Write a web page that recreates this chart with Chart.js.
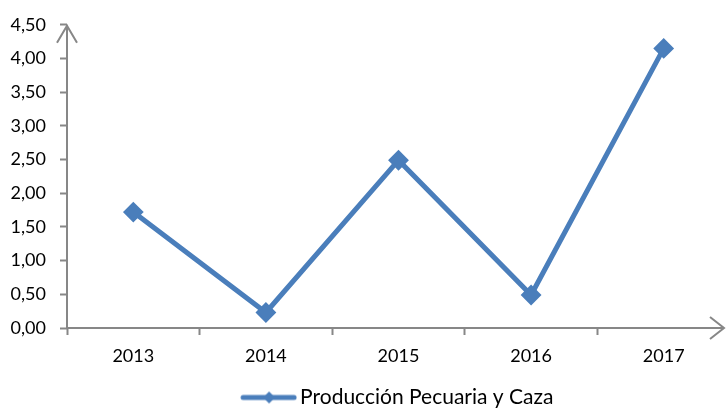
<!DOCTYPE html>
<html>
<head>
<meta charset="utf-8">
<script src="https://cdn.jsdelivr.net/npm/chart.js@4"></script>
<style>
  html, body { margin: 0; padding: 0; background: #fff; overflow: hidden; }
  /* plot area runs past the right edge of the window, as in the original */
  #wrap { width: 730px; height: 413px; }
</style>
</head>
<body>
<div id="wrap"><canvas id="chart"></canvas></div>
<script>
// Chart data
const years = ["2013", "2014", "2015", "2016", "2017"]
const produccion = [1.72, 0.23, 2.49, 0.49, 4.15]
const seriesName = "Producción Pecuaria y Caza"
const yMin = 0
const yMax = 4.5
const yStep = 0.5

const BLUE = "#4A7EBB"
const AXIS = "#878787"
const FONT = "Lato, 'Open Sans', sans-serif"

// Legend symbol: line with a diamond in the middle (blank strip on the left
// so it sits close to the text)
const legendIcon = (() => {
  const c = document.createElement("canvas")
  c.width = 61
  c.height = 14
  const g = c.getContext("2d")
  g.strokeStyle = BLUE
  g.lineWidth = 5
  g.lineCap = "round"
  g.beginPath()
  g.moveTo(7, 7)
  g.lineTo(58, 7)
  g.stroke()
  g.fillStyle = BLUE
  g.beginPath()
  g.moveTo(33, 1)
  g.lineTo(39, 7)
  g.lineTo(33, 13)
  g.lineTo(27, 7)
  g.closePath()
  g.fill()
  return c
})()

// Draw the axis lines with open arrow heads
const arrowAxes = {
  id: "arrowAxes",
  afterDraw(chart) {
    const { ctx, chartArea } = chart
    const y = chart.scales.y
    const x0 = chartArea.left
    const yBase = y.getPixelForValue(yMin)
    const yTop = y.getPixelForValue(yMax)
    ctx.save()
    ctx.strokeStyle = AXIS
    ctx.lineWidth = 2
    ctx.beginPath()
    ctx.moveTo(x0, yBase)
    ctx.lineTo(x0, yTop)
    ctx.moveTo(x0 - 10, yTop + 18)
    ctx.lineTo(x0, yTop + 1)
    ctx.lineTo(x0 + 10, yTop + 18)
    ctx.moveTo(x0, yBase)
    ctx.lineTo(724, yBase)
    ctx.moveTo(710, yBase - 11)
    ctx.lineTo(724, yBase)
    ctx.lineTo(710, yBase + 11)
    ctx.stroke()
    ctx.restore()
  },
}

new Chart(document.getElementById("chart"), {
  type: "line",
  data: {
    labels: years,
    datasets: [
      {
        label: seriesName,
        data: produccion,
        borderColor: BLUE,
        backgroundColor: BLUE,
        borderWidth: 5,
        pointStyle: "rectRot",
        pointRadius: 9,
        pointHoverRadius: 9,
        pointBorderWidth: 2,
        pointBackgroundColor: BLUE,
        pointBorderColor: BLUE,
        tension: 0,
      },
    ],
  },
  options: {
    responsive: true,
    maintainAspectRatio: false,
    animation: false,
    layout: { autoPadding: false, padding: { top: 14, right: 0, left: 0, bottom: -5 } },
    plugins: {
      tooltip: { enabled: false },
      legend: {
        position: "bottom",
        fullSize: false,
        labels: {
          usePointStyle: true,
          pointStyleWidth: 46,
          color: "#000",
          font: { family: FONT, size: 21 },
          padding: 1,
          generateLabels: () => [
            {
              text: seriesName,
              pointStyle: legendIcon,
              fillStyle: BLUE,
              strokeStyle: BLUE,
              lineWidth: 0,
              datasetIndex: 0,
            },
          ],
        },
      },
    },
    scales: {
      x: {
        offset: true,
        grid: {
          display: true,
          drawOnChartArea: false,
          drawTicks: true,
          tickLength: 7,
          tickWidth: 2,
          color: AXIS,
          offset: true,
        },
        border: { display: false },
        ticks: { color: "#000", font: { family: FONT, size: 18 }, padding: 10, maxRotation: 0 },
        afterFit: (scale) => {
          scale.height = 58
          scale.paddingLeft = 0
          scale.paddingRight = 0
        },
      },
      y: {
        min: yMin,
        max: yMax,
        grid: {
          display: true,
          drawOnChartArea: false,
          drawTicks: true,
          tickLength: 7,
          tickWidth: 2,
          color: AXIS,
        },
        border: { display: false },
        ticks: {
          stepSize: yStep,
          color: "#000",
          font: { family: FONT, size: 18 },
          padding: 14,
          callback: (v) => v.toFixed(2).replace(".", ","),
        },
        afterFit: (scale) => { scale.width = 67 },
      },
    },
  },
  plugins: [arrowAxes],
})
</script>
</body>
</html>
